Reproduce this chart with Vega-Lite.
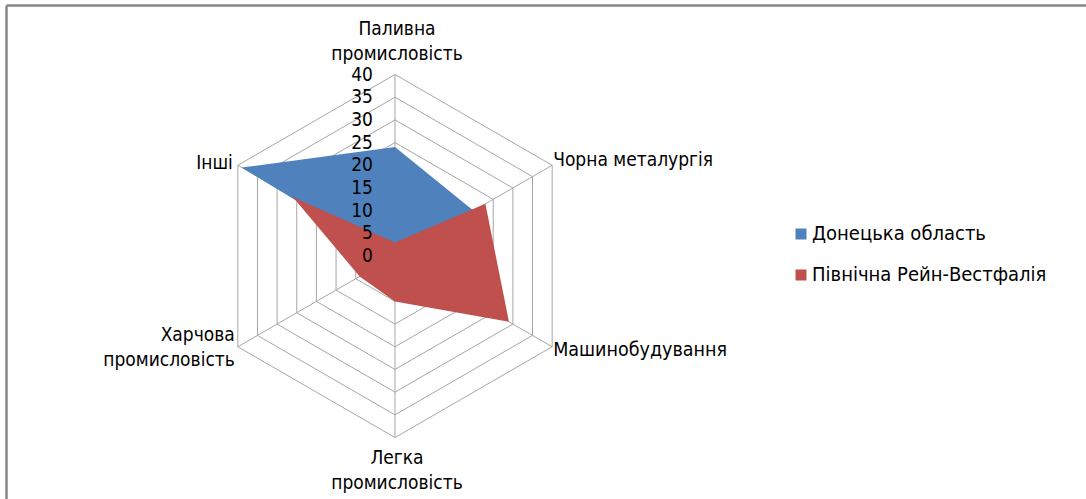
{
  "$schema": "https://vega.github.io/schema/vega-lite/v6.json",
  "width": 1080,
  "height": 494,
  "autosize": {"type": "none"},
  "padding": {"left": 6, "top": 5, "right": 0, "bottom": 0},
  "background": "white",
  "config": {
    "view": {"stroke": null},
    "font": "DejaVu Sans Condensed, Liberation Sans Narrow, sans-serif",
    "legend": {
      "orient": "none",
      "legendX": 785,
      "legendY": 219,
      "symbolType": "square",
      "symbolSize": 121,
      "symbolStrokeWidth": 0,
      "labelFontSize": 20,
      "labelColor": "#000000",
      "labelOffset": 1,
      "labelLimit": 0,
      "rowPadding": 21,
      "labelFont": "DejaVu Sans Condensed, Liberation Sans Narrow, sans-serif"
    }
  },
  "datasets": {
    "cats": [
      {"category": "Паливна промисловість", "ord": 0, "label": ["Паливна", "промисловість"], "levels": [5, 10, 15, 20, 25, 30, 35, 40]},
      {"category": "Чорна металургія", "ord": 1, "label": ["Чорна металургія"], "levels": [5, 10, 15, 20, 25, 30, 35, 40]},
      {"category": "Машинобудування", "ord": 2, "label": ["Машинобудування"], "levels": [5, 10, 15, 20, 25, 30, 35, 40]},
      {"category": "Легка промисловість", "ord": 3, "label": ["Легка", "промисловість"], "levels": [5, 10, 15, 20, 25, 30, 35, 40]},
      {"category": "Харчова промисловість", "ord": 4, "label": ["Харчова", "промисловість"], "levels": [5, 10, 15, 20, 25, 30, 35, 40]},
      {"category": "Інші", "ord": 5, "label": ["Інші"], "levels": [5, 10, 15, 20, 25, 30, 35, 40]}
    ],
    "vals": [
      {"category": "Паливна промисловість", "series": "Донецька область", "value": 24},
      {"category": "Чорна металургія", "series": "Донецька область", "value": 20},
      {"category": "Машинобудування", "series": "Донецька область", "value": 12},
      {"category": "Легка промисловість", "series": "Донецька область", "value": 3},
      {"category": "Харчова промисловість", "series": "Донецька область", "value": 1},
      {"category": "Інші", "series": "Донецька область", "value": 39},
      {"category": "Паливна промисловість", "series": "Північна Рейн-Вестфалія", "value": 3},
      {"category": "Чорна металургія", "series": "Північна Рейн-Вестфалія", "value": 23},
      {"category": "Машинобудування", "series": "Північна Рейн-Вестфалія", "value": 29},
      {"category": "Легка промисловість", "series": "Північна Рейн-Вестфалія", "value": 10},
      {"category": "Харчова промисловість", "series": "Північна Рейн-Вестфалія", "value": 9},
      {"category": "Інші", "series": "Північна Рейн-Вестфалія", "value": 26}
    ],
    "ticks": [
      {"tick": 0}, {"tick": 5}, {"tick": 10}, {"tick": 15}, {"tick": 20},
      {"tick": 25}, {"tick": 30}, {"tick": 35}, {"tick": 40}
    ]
  },
  "layer": [
    {
      "data": {"name": "cats"},
      "transform": [
        {"flatten": ["levels"], "as": ["level"]},
        {"calculate": "datum.level * cos(PI / 2 - datum.ord * PI / 3)", "as": "x"},
        {"calculate": "datum.level * sin(PI / 2 - datum.ord * PI / 3)", "as": "y"}
      ],
      "mark": {"type": "line", "interpolate": "linear-closed", "stroke": "#a6a6a6", "strokeWidth": 1},
      "encoding": {
        "x": {"field": "x", "type": "quantitative", "scale": {"domain": [-85.73, 152.29], "nice": false, "zero": false}, "axis": {"orient": "top", "domain": true, "domainColor": "#878787", "domainWidth": 2.5, "ticks": false, "labels": false, "grid": false, "title": null}},
        "y": {"field": "y", "type": "quantitative", "scale": {"domain": [-53.55, 55.32], "nice": false, "zero": false}, "axis": {"orient": "left", "domain": true, "domainColor": "#878787", "domainWidth": 2.5, "ticks": false, "labels": false, "grid": false, "title": null}},
        "detail": {"field": "level", "type": "nominal"},
        "order": {"field": "ord", "type": "quantitative"}
      }
    },
    {
      "data": {"name": "cats"},
      "transform": [
        {"calculate": "0", "as": "x"},
        {"calculate": "0", "as": "y"},
        {"calculate": "40 * cos(PI / 2 - datum.ord * PI / 3)", "as": "xe"},
        {"calculate": "40 * sin(PI / 2 - datum.ord * PI / 3)", "as": "ye"}
      ],
      "mark": {"type": "rule", "stroke": "#a6a6a6", "strokeWidth": 1},
      "encoding": {
        "x": {"field": "x", "type": "quantitative"},
        "y": {"field": "y", "type": "quantitative"},
        "x2": {"field": "xe"},
        "y2": {"field": "ye"}
      }
    },
    {
      "data": {"name": "vals"},
      "transform": [
        {"filter": "datum.series === 'Донецька область'"},
        {"lookup": "category", "from": {"data": {"name": "cats"}, "key": "category", "fields": ["ord"]}},
        {"calculate": "datum.value * cos(PI / 2 - datum.ord * PI / 3)", "as": "x"},
        {"calculate": "datum.value * sin(PI / 2 - datum.ord * PI / 3)", "as": "y"}
      ],
      "mark": {"type": "line", "interpolate": "linear-closed", "filled": true, "fillOpacity": 1, "strokeWidth": 0},
      "encoding": {
        "x": {"field": "x", "type": "quantitative"},
        "y": {"field": "y", "type": "quantitative"},
        "order": {"field": "ord", "type": "quantitative"},
        "color": {"field": "series", "type": "nominal", "title": null, "scale": {"domain": ["Донецька область", "Північна Рейн-Вестфалія"], "range": ["#4f81bd", "#c0504d"]}}
      }
    },
    {
      "data": {"name": "vals"},
      "transform": [
        {"filter": "datum.series === 'Північна Рейн-Вестфалія'"},
        {"lookup": "category", "from": {"data": {"name": "cats"}, "key": "category", "fields": ["ord"]}},
        {"calculate": "datum.value * cos(PI / 2 - datum.ord * PI / 3)", "as": "x"},
        {"calculate": "datum.value * sin(PI / 2 - datum.ord * PI / 3)", "as": "y"}
      ],
      "mark": {"type": "line", "interpolate": "linear-closed", "filled": true, "fillOpacity": 1, "strokeWidth": 0},
      "encoding": {
        "x": {"field": "x", "type": "quantitative"},
        "y": {"field": "y", "type": "quantitative"},
        "order": {"field": "ord", "type": "quantitative"},
        "color": {"field": "series", "type": "nominal", "title": null, "scale": {"domain": ["Донецька область", "Північна Рейн-Вестфалія"], "range": ["#4f81bd", "#c0504d"]}}
      }
    },
    {
      "data": {"name": "ticks"},
      "transform": [{"calculate": "0", "as": "x"}],
      "mark": {"type": "text", "align": "right", "baseline": "middle", "dx": -22, "fontSize": 19, "color": "#000000"},
      "encoding": {
        "x": {"field": "x", "type": "quantitative"},
        "y": {"field": "tick", "type": "quantitative"},
        "text": {"field": "tick", "type": "ordinal"}
      }
    },
    {
      "data": {"name": "cats"},
      "transform": [
        {"filter": "datum.ord === 0"},
        {"calculate": "40 * cos(PI / 2 - datum.ord * PI / 3)", "as": "x"},
        {"calculate": "40 * sin(PI / 2 - datum.ord * PI / 3)", "as": "y"}
      ],
      "mark": {"type": "text", "align": "center", "baseline": "middle", "dx": 2, "dy": -46, "fontSize": 19, "lineHeight": 25, "color": "#000000"},
      "encoding": {"x": {"field": "x", "type": "quantitative"}, "y": {"field": "y", "type": "quantitative"}, "text": {"field": "label", "type": "nominal"}}
    },
    {
      "data": {"name": "cats"},
      "transform": [
        {"filter": "datum.ord === 1"},
        {"calculate": "40 * cos(PI / 2 - datum.ord * PI / 3)", "as": "x"},
        {"calculate": "40 * sin(PI / 2 - datum.ord * PI / 3)", "as": "y"}
      ],
      "mark": {"type": "text", "align": "left", "baseline": "middle", "dx": 1, "dy": -5, "fontSize": 19, "lineHeight": 25, "color": "#000000"},
      "encoding": {"x": {"field": "x", "type": "quantitative"}, "y": {"field": "y", "type": "quantitative"}, "text": {"field": "label", "type": "nominal"}}
    },
    {
      "data": {"name": "cats"},
      "transform": [
        {"filter": "datum.ord === 2"},
        {"calculate": "40 * cos(PI / 2 - datum.ord * PI / 3)", "as": "x"},
        {"calculate": "40 * sin(PI / 2 - datum.ord * PI / 3)", "as": "y"}
      ],
      "mark": {"type": "text", "align": "left", "baseline": "middle", "dx": 1, "dy": 3, "fontSize": 19.5, "lineHeight": 25, "color": "#000000"},
      "encoding": {"x": {"field": "x", "type": "quantitative"}, "y": {"field": "y", "type": "quantitative"}, "text": {"field": "label", "type": "nominal"}}
    },
    {
      "data": {"name": "cats"},
      "transform": [
        {"filter": "datum.ord === 3"},
        {"calculate": "40 * cos(PI / 2 - datum.ord * PI / 3)", "as": "x"},
        {"calculate": "40 * sin(PI / 2 - datum.ord * PI / 3)", "as": "y"}
      ],
      "mark": {"type": "text", "align": "center", "baseline": "middle", "dx": 2, "dy": 20, "fontSize": 19, "lineHeight": 25, "color": "#000000"},
      "encoding": {"x": {"field": "x", "type": "quantitative"}, "y": {"field": "y", "type": "quantitative"}, "text": {"field": "label", "type": "nominal"}}
    },
    {
      "data": {"name": "cats"},
      "transform": [
        {"filter": "datum.ord === 4"},
        {"calculate": "40 * cos(PI / 2 - datum.ord * PI / 3)", "as": "x"},
        {"calculate": "40 * sin(PI / 2 - datum.ord * PI / 3)", "as": "y"}
      ],
      "mark": {"type": "text", "align": "right", "baseline": "middle", "dx": -3, "dy": -12, "fontSize": 19, "lineHeight": 25, "color": "#000000"},
      "encoding": {"x": {"field": "x", "type": "quantitative"}, "y": {"field": "y", "type": "quantitative"}, "text": {"field": "label", "type": "nominal"}}
    },
    {
      "data": {"name": "cats"},
      "transform": [
        {"filter": "datum.ord === 5"},
        {"calculate": "40 * cos(PI / 2 - datum.ord * PI / 3)", "as": "x"},
        {"calculate": "40 * sin(PI / 2 - datum.ord * PI / 3)", "as": "y"}
      ],
      "mark": {"type": "text", "align": "right", "baseline": "middle", "dx": -5, "dy": -2, "fontSize": 19, "lineHeight": 25, "color": "#000000"},
      "encoding": {"x": {"field": "x", "type": "quantitative"}, "y": {"field": "y", "type": "quantitative"}, "text": {"field": "label", "type": "nominal"}}
    }
  ]
}
